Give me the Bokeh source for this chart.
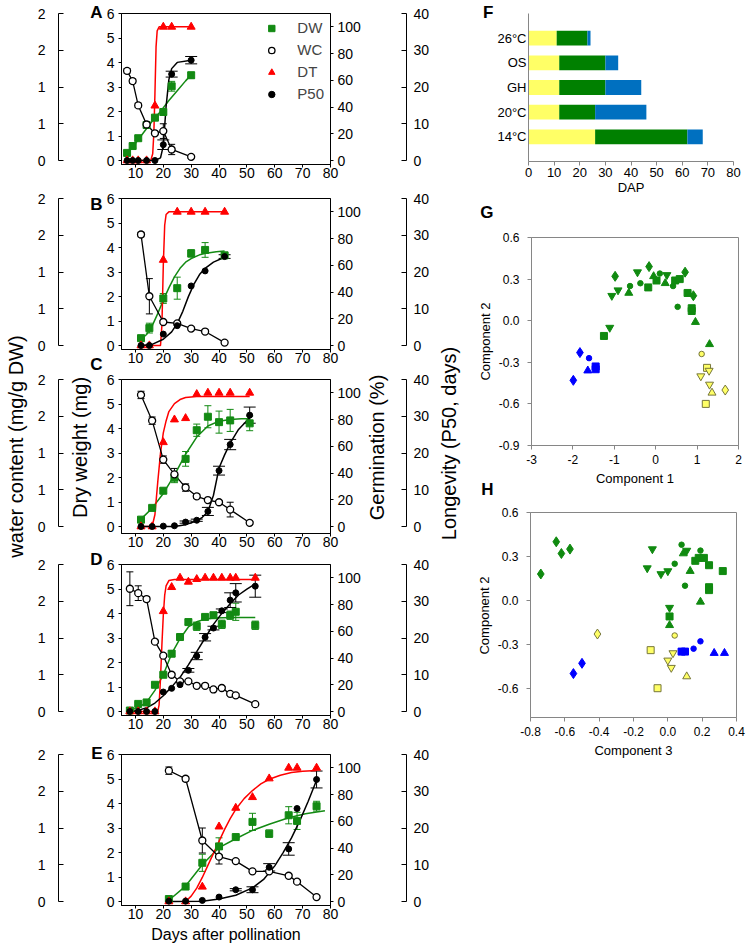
import math
from bokeh.plotting import figure
from bokeh.layouts import row, column
from bokeh.models import (Range1d, LinearAxis, FixedTicker, Whisker, TeeHead,
                          ColumnDataSource, Legend, LegendItem, Label, FactorRange,
                          NumeralTickFormatter, CustomJSTickFormatter)
from bokeh.embed import file_html
from bokeh.resources import INLINE

# ---------------- data: panels A-E (time courses) ----------------
# DW: dry weight (mg); WC: water content (mg/g DW); DT: germination (%); P50: longevity (days)
A_days = [7, 9, 11, 14, 17, 20, 23, 30]
A_dw = [0.31, 0.59, 0.91, 1.45, 1.75, 1.98, 3.03, 3.48]
A_dw_err = [0.08, 0.08, 0.08, 0.08, 0.1, 0.12, 0.2, 0.12]
A_wc = [1.22, 1.08, 0.75, 0.49, 0.37, 0.40, 0.15, 0.05]
A_wc_err = [0.03, 0.03, 0.03, 0.02, 0.02, 0.1, 0.07, 0.02]
A_dt = [0, 0, 0, 0, 41, 100, 100, 100]
A_p50 = [0, 0, 0, 0, 0, 4.3, 23.5, 27.3]
A_p50_err = [0, 0, 0, 0, 0, 1.3, 0.8, 1.0]
A_dw_fit_x = [7, 10, 13, 16, 19, 22, 25, 28, 30]
A_dw_fit_y = [0.3, 0.7, 1.15, 1.6, 2.0, 2.45, 2.85, 3.25, 3.5]
A_dt_fit_x = [7, 15.5, 16.2, 16.6, 17.0, 17.4, 17.8, 18.5, 30]
A_dt_fit_y = [0, 0, 5, 20, 50, 85, 97, 100, 100]
A_p50_fit_x = [7, 17, 19, 20, 21, 22, 23, 25, 30]
A_p50_fit_y = [0, 0, 0.7, 4, 14.7, 22, 25, 26.7, 27.3]

B_days = [12, 15, 20, 25, 30, 35, 42]
B_dw = [0.30, 0.71, 1.92, 2.34, 3.76, 3.90, 3.68]
B_dw_err = [0.08, 0.2, 0.2, 0.45, 0.15, 0.3, 0.08]
B_wc = [1.51, 0.67, 0.32, 0.30, 0.23, 0.19, 0.04]
B_wc_err = [0.03, 0.24, 0.02, 0.02, 0.02, 0.02, 0.02]
B_dt = [0, 0, 64, 100, 100, 100, 100]
B_p50 = [0, 0, 3.1, 5.4, 16.2, 20.3, 24.2]
B_p50_err = [0, 0, 0, 0, 0, 0, 0.5]
B_dw_fit_x = [12, 14, 16, 18, 20, 22, 24, 26, 28, 30, 33, 36, 39, 42]
B_dw_fit_y = [0.25, 0.45, 0.8, 1.3, 1.85, 2.35, 2.8, 3.15, 3.4, 3.55, 3.7, 3.78, 3.83, 3.86]
B_dt_fit_x = [12, 19, 19.5, 20, 20.5, 21, 22, 42]
B_dt_fit_y = [0, 0, 15, 60, 90, 98, 100, 100]
B_p50_fit_x = [12, 16, 20, 23, 25, 27, 29, 31, 33, 35, 38, 42]
B_p50_fit_y = [0, 0.3, 1.7, 3.7, 6, 9.3, 13.3, 16.7, 19.3, 21, 22.7, 24]

C_days = [12, 16, 20, 24, 28, 32, 36, 40, 44, 51]
C_dw = [0.28, 0.76, 1.46, 1.99, 2.76, 3.93, 4.48, 4.26, 4.33, 4.21]
C_dw_err = [0.1, 0.08, 0.1, 0.2, 0.3, 0.25, 0.45, 0.45, 0.45, 0.3]
C_wc = [1.79, 1.44, 0.91, 0.71, 0.53, 0.41, 0.36, 0.33, 0.23, 0.05]
C_wc_err = [0.05, 0.05, 0.05, 0.08, 0.05, 0.03, 0.02, 0.02, 0.1, 0.02]
C_dt = [0, 0, 63, 80, 81, 99, 100, 100, 100, 100]
C_p50 = [0, 0, 0.1, 0.2, 1.2, 1.7, 4.1, 15.2, 22.3, 30.3]
C_p50_err = [0, 0, 0, 0, 0.3, 0.3, 1.1, 1.2, 1.4, 2.2]
C_dw_fit_x = [12, 16, 20, 24, 28, 32, 36, 40, 44, 48, 51]
C_dw_fit_y = [0.3, 0.75, 1.35, 2.1, 2.95, 3.65, 4.1, 4.3, 4.37, 4.4, 4.4]
C_dt_fit_x = [12, 16, 17, 18, 19, 20, 21, 22, 24, 26, 28, 32, 51]
C_dt_fit_y = [0, 0, 9, 33, 55, 70, 79, 86, 92, 95, 96.5, 97.2, 97.3]
C_p50_fit_x = [12, 24, 28, 32, 34, 36, 38, 40, 42, 44, 47, 51]
C_p50_fit_y = [0, 0, 0.5, 1.5, 2.5, 4, 8.5, 15.9, 19.5, 22.7, 26.4, 29.6]

D_days = [8, 11, 14, 17, 20, 23, 26, 29, 32, 35, 38, 41, 44, 46, 53]
D_dw = [0.04, 0.31, 0.37, 1.09, 1.50, 2.36, 3.04, 3.65, 3.48, 3.86, 3.93, 3.56, 3.93, 4.07, 3.52]
D_dw_err = [0.03, 0.05, 0.05, 0.08, 0.08, 0.12, 0.08, 0.1, 0.17, 0.08, 0.08, 0.17, 0.17, 0.35, 0.17]
D_wc = [1.67, 1.61, 1.53, 0.95, 0.76, 0.50, 0.41, 0.41, 0.35, 0.35, 0.30, 0.32, 0.24, 0.22, 0.10]
D_wc_err = [0.23, 0.1, 0.03, 0.02, 0.02, 0.02, 0.02, 0.02, 0.02, 0.02, 0.02, 0.02, 0.02, 0.02, 0.02]
D_dt = [0, 0, 0, 0, 75, 93, 100, 97, 99, 100, 100, 100, 100, 100, 100]
D_p50 = [0, 0, 0, 0, 5.3, 6.3, 7.3, 11.2, 15.1, 20.2, 22.7, 27.4, 30.3, 32.3, 34.1]
D_p50_err = [0, 0, 0, 0, 0, 0, 0, 0.5, 1.0, 1.0, 0.5, 0.5, 2.0, 2.5, 3.0]
D_dw_fit_x = [8, 11, 14, 17, 20, 23, 26, 29, 32, 35, 38, 45, 53]
D_dw_fit_y = [0.05, 0.15, 0.38, 0.86, 1.5, 2.36, 2.97, 3.45, 3.66, 3.77, 3.82, 3.84, 3.84]
D_dt_fit_x = [8, 18, 18.5, 19, 19.5, 20, 20.5, 21, 22, 24, 53]
D_dt_fit_y = [0, 0, 5, 25, 50, 72, 87, 94, 98, 98.8, 98.8]
D_p50_fit_x = [8, 11, 14, 17, 20, 23, 26, 29, 32, 35, 38, 41, 44, 47, 50, 53]
D_p50_fit_y = [0, 0.3, 1, 2.3, 4.3, 6.7, 9.3, 12.7, 16.3, 20, 23.7, 26.7, 29.3, 31.7, 33.3, 34.7]

E_days = [22, 28, 34, 40, 46, 52, 58, 65, 68, 75]
E_dw = [0.10, 0.61, 1.58, 2.25, 2.63, 3.25, 2.77, 3.52, 3.29, 3.89]
E_dw_err = [0.08, 0.05, 0.35, 0.35, 0.05, 0.35, 0.15, 0.35, 0.35, 0.2]
E_wc = [1.78, 1.67, 0.83, 0.61, 0.55, 0.41, 0.41, 0.35, 0.27, 0.06]
E_wc_err = [0.05, 0.03, 0.17, 0.1, 0.02, 0.02, 0.02, 0.02, 0.02, 0.02]
E_dt = [0, 0, 11, 56, 70, 78, 92, 100, 100, 100]
E_p50 = [0.1, 0.1, 0.3, 1.2, 3.2, 3.2, 9.3, 14.3, 25.3, 33.2]
E_p50_err = [0, 0, 0, 0, 0.3, 0.8, 1.0, 1.7, 0, 2.3]
E_dw_fit_x = [22, 28, 34, 40, 46, 52, 58, 65, 71, 78]
E_dw_fit_y = [0.05, 0.63, 1.5, 2.2, 2.56, 2.9, 3.15, 3.42, 3.58, 3.7]
E_dt_fit_x = [28, 30, 32, 34, 36, 38, 40, 42, 44, 46, 49, 52, 55, 58, 62, 66, 70, 75]
E_dt_fit_y = [0, 4, 10, 18, 27, 36, 45, 54, 62, 69, 77, 83, 88, 91.5, 94.5, 96.5, 97.5, 98]
E_p50_fit_x = [22, 34, 40, 46, 52, 56, 60, 63, 66, 69, 72, 75]
E_p50_fit_y = [0, 0.1, 0.7, 1.7, 3.7, 6, 9.7, 13.3, 17.3, 22, 27.3, 33]

# ---------------- data: panel F (phases, DAP) ----------------
F_conditions = ["26°C", "OS", "GH", "20°C", "14°C"]
F_yellow = [11, 12, 12, 12, 26]
F_green = [12, 18, 18, 14, 36]
F_blue = [1.2, 5, 14, 20, 6]

# ---------------- data: panel G (PCA comp1 vs comp2) ----------------
G_comp1 = [-1.99, -1.83, -1.61, -1.64, -1.45, -1.45,
           -1.25, -1.11, -1.06, -0.91, -0.98, -0.65, -0.62, -0.37, -0.44, -0.18, -0.16,
           -0.05, 0.02, 0.10, 0.27, 0.23, 0.42, 0.47, 0.58, 0.71, 0.53, 0.77, 0.91, 0.87,
           0.87, 0.96, 1.30,
           1.11, 1.09, 1.24, 1.29, 1.30, 1.36, 1.68, 1.21]
G_comp2 = [-0.43, -0.23, -0.27, -0.36, -0.35, -0.33,
           -0.11, -0.05, 0.18, 0.22, 0.32, 0.20, 0.25, 0.27, 0.35, 0.24, 0.39,
           0.32, 0.29, 0.34, 0.33, 0.27, 0.25, 0.29, 0.30, 0.35, 0.10, 0.20, 0.18, 0.07,
           0.09, -0.01, -0.17,
           -0.24, -0.40, -0.34, -0.36, -0.46, -0.52, -0.50, -0.60]
G_group = ["b"] * 6 + ["g"] * 27 + ["y"] * 8
G_shape = ["diamond", "diamond", "circle", "triangle", "square", "square",
           "square", "inverted_triangle", "inverted_triangle", "inverted_triangle", "diamond",
           "triangle", "circle", "circle", "inverted_triangle", "square", "diamond",
           "triangle", "square", "circle", "inverted_triangle", "triangle", "circle", "square",
           "square", "diamond", "circle", "square", "diamond", "square",
           "square", "triangle", "triangle",
           "circle", "inverted_triangle", "square", "inverted_triangle", "inverted_triangle",
           "triangle", "diamond", "square"]

# ---------------- data: panel H (PCA comp3 vs comp2) ----------------
H_comp3 = [-0.74, -0.65, -0.62, -0.57,
           -0.09, -0.12, -0.04, 0.00, 0.01, 0.11,
           0.04, 0.08, 0.10, 0.19,
           0.09, 0.13, 0.19, 0.01,
           0.01, 0.16, 0.18, 0.21, 0.24, 0.32, 0.24, 0.24,
           -0.55, -0.50, 0.08, 0.10, 0.15, 0.19, 0.27, 0.33,
           -0.41, 0.04, -0.10, -0.06, 0.00, 0.03, 0.02, 0.11]
H_comp2 = [0.18, 0.40, 0.32, 0.35,
           0.35, 0.22, 0.18, 0.20, -0.05, 0.34,
           0.25, 0.38, 0.10, 0.34,
           0.32, 0.20, -0.01, -0.17,
           -0.11, 0.27, 0.29, 0.29, 0.24, 0.20, 0.09, 0.07,
           -0.50, -0.43, -0.35, -0.35, -0.33, -0.28, -0.36, -0.36,
           -0.23, -0.24, -0.34, -0.60, -0.41, -0.36, -0.46, -0.52]
H_group = ["g"] * 26 + ["b"] * 8 + ["y"] * 8
H_shape = (["diamond"] * 4 + ["inverted_triangle"] * 6 + ["circle"] * 4 + ["triangle"] * 4 +
           ["square"] * 8 +
           ["diamond", "diamond", "square", "square", "circle", "circle", "triangle", "triangle"] +
           ["diamond", "circle", "square", "square", "inverted_triangle", "inverted_triangle",
            "inverted_triangle", "triangle"])

# ---------------- styling / layout constants ----------------
FONT = "Liberation Sans"
GREEN = "#138a13"
RED = "#ff0000"
GRAY = "#868686"
PX = 147 / 6          # pixels per mg dry weight (0..6 spans 147 px)
WPX = 147 / 2         # pixels per unit water content
LPX = 147 / 40        # pixels per day of longevity
TOTAL_H = 948
# geometry of the five time-course rows: (top border, gap below zero, bottom border)
ROWS = [(13, 4, 21), (13, 4, 20), (10, 7, 22), (9, 4, 30), (9, 4, 43)]
# split points for the outer-axis strips (page px)
SPLIT = [0, 180, 354, 542, 730, TOTAL_H]
LETTER_TOP = [2, 194, 354, 549, 743]


def style_axis(ax, size="14px", color="black"):
    ax.major_label_text_font = FONT
    ax.major_label_text_font_size = size
    ax.major_label_text_color = "black"
    ax.axis_label_text_font = FONT
    ax.axis_label_text_font_style = "normal"
    ax.axis_label_text_color = "black"
    ax.axis_label_text_font_size = "20px"
    ax.minor_tick_line_color = None
    ax.minor_tick_out = 0
    ax.axis_line_color = color
    ax.major_tick_line_color = color


def text(p, s, x, y, size="20px", bold=False, angle=0.0, align="center", baseline="middle",
         rng=None):
    lab = Label(x=x, y=y, text=s, text_font=FONT, text_font_size=size,
                text_font_style="bold" if bold else "normal", angle=angle,
                text_align=align, text_baseline=baseline, text_color="black")
    if rng:
        lab.y_range_name = rng
    p.add_layout(lab)


def blank(width, height, xr, yr, yaxis=None, left=0, right=0):
    p = figure(width=width, height=height, output_backend="svg", toolbar_location=None,
               x_range=xr, y_range=yr, x_axis_location=None, y_axis_location=yaxis,
               min_border_left=left, min_border_right=right, min_border_top=0,
               min_border_bottom=0, frame_align=False)
    p.grid.visible = False
    p.outline_line_color = None
    return p


def whisk(p, xs, ys, errs, color, head, rng=None):
    xx = [x for x, e in zip(xs, errs) if e > 0]
    lo = [y - e for y, e in zip(ys, errs) if e > 0]
    hi = [y + e for y, e in zip(ys, errs) if e > 0]
    src = ColumnDataSource(dict(x=xx, lo=lo, hi=hi))
    w = Whisker(source=src, base="x", lower="lo", upper="hi", dimension="height",
                line_color=color, line_width=1,
                upper_head=TeeHead(size=head, line_color=color, line_width=1),
                lower_head=TeeHead(size=head, line_color=color, line_width=1))
    if rng:
        w.y_range_name = rng
    p.add_layout(w)


def main_panel(d, geom, legend=False, xlabel=False):
    days, dw, dwe, wc, wce, dt, p50, p50e, dfx, dfy, tfx, tfy, pfx, pfy = d
    T, G, B = geom
    y0 = -G / PX
    H = T + 147 + G + B
    p = figure(width=260, height=H, output_backend="svg", toolbar_location=None,
               x_range=Range1d(5, 80), y_range=Range1d(y0, 6), frame_align=False,
               min_border_left=16, min_border_right=32, min_border_top=T, min_border_bottom=B)
    p.extra_y_ranges = {"wc": Range1d(y0 / 3, 2), "germ": Range1d(y0 * 110 / 6, 110),
                        "p50": Range1d(y0 * 40 / 6, 40)}
    p.grid.visible = False
    p.outline_line_color = "black"

    xa = p.xaxis[0]
    style_axis(xa)
    xa.ticker = FixedTicker(ticks=list(range(10, 81, 10)))
    xa.major_tick_out = 3
    xa.major_tick_in = 0
    xa.major_label_standoff = 0
    if xlabel:
        xa.axis_label = "Days after pollination"
        xa.axis_label_text_font_size = "16px"
        xa.axis_label_standoff = 4

    ya = p.yaxis[0]
    style_axis(ya)
    ya.ticker = FixedTicker(ticks=[0, 1, 2, 3, 4, 5, 6])
    ya.major_tick_out = 3
    ya.major_tick_in = 0
    ya.major_label_standoff = 4

    ga = LinearAxis(y_range_name="germ", ticker=FixedTicker(ticks=[0, 20, 40, 60, 80, 100]))
    style_axis(ga)
    ga.major_tick_out = 3
    ga.major_tick_in = 0
    ga.major_label_standoff = 4
    p.add_layout(ga, "right")

    p.line(dfx, dfy, line_color=GREEN, line_width=1.5)
    p.line(tfx, tfy, line_color=RED, line_width=1.5, y_range_name="germ")
    p.line(pfx, pfy, line_color="black", line_width=1.5, y_range_name="p50")
    p.line(days, wc, line_color="black", line_width=1.3, y_range_name="wc")

    whisk(p, days, dw, dwe, GREEN, 7)
    whisk(p, days, wc, wce, "black", 7, "wc")
    whisk(p, days, p50, p50e, "black", 12, "p50")

    r_dw = p.scatter(days, dw, marker="square", size=7, fill_color=GREEN, line_color=GREEN)
    r_wc = p.scatter(days, wc, marker="circle", size=7, fill_color="white", line_color="black",
                     line_width=1.3, y_range_name="wc")
    r_dt = p.scatter(days, dt, marker="triangle", size=8, fill_color=RED, line_color=RED,
                     y_range_name="germ")
    r_p = p.scatter(days, p50, marker="circle", size=6, fill_color="black", line_color="black",
                    y_range_name="p50")

    if legend:
        lg = Legend(items=[LegendItem(label="DW", renderers=[r_dw]),
                           LegendItem(label="WC", renderers=[r_wc]),
                           LegendItem(label="DT", renderers=[r_dt]),
                           LegendItem(label="P50", renderers=[r_p])],
                    location="top_right", label_text_font=FONT, label_text_font_size="15px",
                    glyph_width=16, glyph_height=16, label_standoff=18, spacing=5,
                    padding=4, margin=6, border_line_color=None, background_fill_alpha=0)
        p.add_layout(lg)
    return p


DATA = [
    (A_days, A_dw, A_dw_err, A_wc, A_wc_err, A_dt, A_p50, A_p50_err,
     A_dw_fit_x, A_dw_fit_y, A_dt_fit_x, A_dt_fit_y, A_p50_fit_x, A_p50_fit_y),
    (B_days, B_dw, B_dw_err, B_wc, B_wc_err, B_dt, B_p50, B_p50_err,
     B_dw_fit_x, B_dw_fit_y, B_dt_fit_x, B_dt_fit_y, B_p50_fit_x, B_p50_fit_y),
    (C_days, C_dw, C_dw_err, C_wc, C_wc_err, C_dt, C_p50, C_p50_err,
     C_dw_fit_x, C_dw_fit_y, C_dt_fit_x, C_dt_fit_y, C_p50_fit_x, C_p50_fit_y),
    (D_days, D_dw, D_dw_err, D_wc, D_wc_err, D_dt, D_p50, D_p50_err,
     D_dw_fit_x, D_dw_fit_y, D_dt_fit_x, D_dt_fit_y, D_p50_fit_x, D_p50_fit_y),
    (E_days, E_dw, E_dw_err, E_wc, E_wc_err, E_dt, E_p50, E_p50_err,
     E_dw_fit_x, E_dw_fit_y, E_dt_fit_x, E_dt_fit_y, E_p50_fit_x, E_p50_fit_y),
]
LETTERS = ["A", "B", "C", "D", "E"]

mains, wcs, longs = [], [], []
page = 0
for i, (d, geom) in enumerate(zip(DATA, ROWS)):
    T, G, B = geom
    mains.append(main_panel(d, geom, legend=(i == 0), xlabel=(i == 4)))
    top_pg = page + T              # page y of the frame top (value 6 / 2 / 40)
    zero_pg = top_pg + 147         # page y of the zero line
    page += T + 147 + G + B
    s0, s1 = SPLIT[i], SPLIT[i + 1]
    hh = s1 - s0
    # water-content axis strip (frame spans page x 58..103)
    w = blank(73, hh, Range1d(58, 103),
              Range1d(-(s1 - zero_pg) / WPX, 2 + (top_pg - s0) / WPX), yaxis="left", left=28)
    w.extra_y_ranges = {"page": Range1d(s1, s0)}
    wa = w.yaxis[0]
    style_axis(wa)
    wa.ticker = FixedTicker(ticks=[0, 0.5, 1, 1.5, 2])
    wa.bounds = (0, 2)
    wa.formatter = CustomJSTickFormatter(code="return Math.round(tick).toString()")
    wa.major_tick_in = 5
    wa.major_tick_out = 0
    wa.major_label_standoff = 13
    text(w, LETTERS[i], 102, LETTER_TOP[i], size="17px", bold=True, align="right",
         baseline="top", rng="page")
    # longevity axis strip (frame spans page x 363..406)
    lf = blank(73, hh, Range1d(363, 406),
               Range1d(-(s1 - zero_pg) / LPX, 40 + (top_pg - s0) / LPX), yaxis="right", right=30)
    lf.extra_y_ranges = {"page": Range1d(s1, s0)}
    la = lf.yaxis[0]
    style_axis(la)
    la.ticker = FixedTicker(ticks=[0, 10, 20, 30, 40])
    la.bounds = (0, 40)
    la.major_tick_in = 5
    la.major_tick_out = 0
    la.major_label_standoff = 7
    if i == 2:
        text(w, "Dry weight (mg)", 79, 447, angle=math.pi / 2, rng="page")
        text(lf, "Germination (%)", 376, 447, angle=math.pi / 2, rng="page")
    wcs.append(w)
    longs.append(lf)

# full-height label strips (page pixel coordinates, y downwards)
wl = blank(30, TOTAL_H, Range1d(0, 30), Range1d(TOTAL_H, 0))
text(wl, "water content (mg/g DW)", 15, 446, angle=math.pi / 2)
rl = blank(58, TOTAL_H, Range1d(436, 494), Range1d(TOTAL_H, 0))
text(rl, "Longevity (P50, days)", 448, 443, angle=math.pi / 2)
for s, y in (("F", 2), ("G", 202), ("H", 479)):
    text(rl, s, 493, y, size="17px", bold=True, align="right", baseline="top")
text(rl, "Component 2", 485, 341, size="13px", angle=math.pi / 2)
text(rl, "Component 2", 484, 615, size="13px", angle=math.pi / 2)

left_part = row(wl, column(*wcs), column(*mains), column(*longs), rl)

# ---------------- panel F ----------------
RW = 253
pF = figure(width=RW, height=200, output_backend="svg", toolbar_location=None,
            x_range=Range1d(0, 80), frame_align=False,
            y_range=FactorRange(factors=list(reversed(F_conditions)), range_padding=0.2),
            min_border_left=32, min_border_right=14, min_border_top=13, min_border_bottom=39)
pF.grid.visible = False
pF.outline_line_color = None
srcF = ColumnDataSource(dict(cond=F_conditions, yellow=F_yellow, green=F_green, blue=F_blue))
pF.hbar_stack(["yellow", "green", "blue"], y="cond", height=0.6,
              color=["#ffff66", "#008000", "#0070c0"], line_color=None, source=srcF)
style_axis(pF.xaxis[0], "13px", GRAY)
pF.xaxis.ticker = FixedTicker(ticks=list(range(0, 81, 10)))
pF.xaxis.major_tick_out = 4
pF.xaxis.major_tick_in = 0
pF.xaxis.major_label_standoff = 2
pF.xaxis.axis_label = "DAP"
pF.xaxis.axis_label_text_font_size = "13px"
pF.xaxis.axis_label_standoff = 0
style_axis(pF.yaxis[0], "13px", GRAY)
pF.yaxis.major_tick_line_color = None
pF.yaxis.major_tick_out = 0
pF.yaxis.major_label_standoff = 2

# ---------------- panels G, H ----------------
FILL = {"g": "#108a10", "b": "#0000ff", "y": "#ffff66"}
LINE = {"g": "#108a10", "b": "#0000ff", "y": "#77773a"}
SIZE = {"square": 7, "circle": 5.5, "triangle": 8, "inverted_triangle": 8, "diamond": 10}


def pca(xs, ys, groups, shapes, xr, yr, xt, yt, xfmt, xlab, height, top, bottom, left, fw):
    p = figure(width=RW, height=height, output_backend="svg", toolbar_location=None,
               x_range=Range1d(*xr), y_range=Range1d(*yr), frame_align=False,
               min_border_left=left, min_border_right=RW - left - fw,
               min_border_top=top, min_border_bottom=bottom)
    p.grid.visible = False
    p.outline_line_color = GRAY
    src = ColumnDataSource(dict(x=xs, y=ys, marker=shapes,
                                fill=[FILL[g] for g in groups], line=[LINE[g] for g in groups],
                                size=[SIZE[s] for s in shapes]))
    p.scatter(x="x", y="y", marker="marker", size="size", fill_color="fill",
              line_color="line", source=src)
    for ax in (p.xaxis[0], p.yaxis[0]):
        style_axis(ax, "12px", GRAY)
        ax.major_tick_out = 4
        ax.major_tick_in = 0
        ax.axis_label_text_font_size = "13px"
    p.xaxis.ticker = FixedTicker(ticks=xt)
    p.yaxis.ticker = FixedTicker(ticks=yt)
    p.yaxis.formatter = NumeralTickFormatter(format="0.0")
    p.xaxis.formatter = NumeralTickFormatter(format=xfmt)
    p.xaxis.axis_label = xlab
    p.xaxis.major_label_standoff = 5
    p.xaxis.axis_label_standoff = 4
    p.yaxis.major_label_standoff = 8
    return p


pG = pca(G_comp1, G_comp2, G_group, G_shape, (-3, 2), (-0.9, 0.6),
         [-3, -2, -1, 0, 1, 2], [-0.9, -0.6, -0.3, 0.0, 0.3, 0.6], "0", "Component 1",
         290, 37, 45, 37, 207)
pH = pca(H_comp3, H_comp2, H_group, H_shape, (-0.8, 0.4), (-0.8, 0.6),
         [-0.8, -0.6, -0.4, -0.2, 0.0, 0.2, 0.4], [-0.6, -0.3, 0.0, 0.3, 0.6], "0.0",
         "Component 3", 270, 22, 41, 34, 208)

layout = row(left_part, column(pF, pG, pH))
open("out.html", "w").write(file_html(layout, INLINE))
